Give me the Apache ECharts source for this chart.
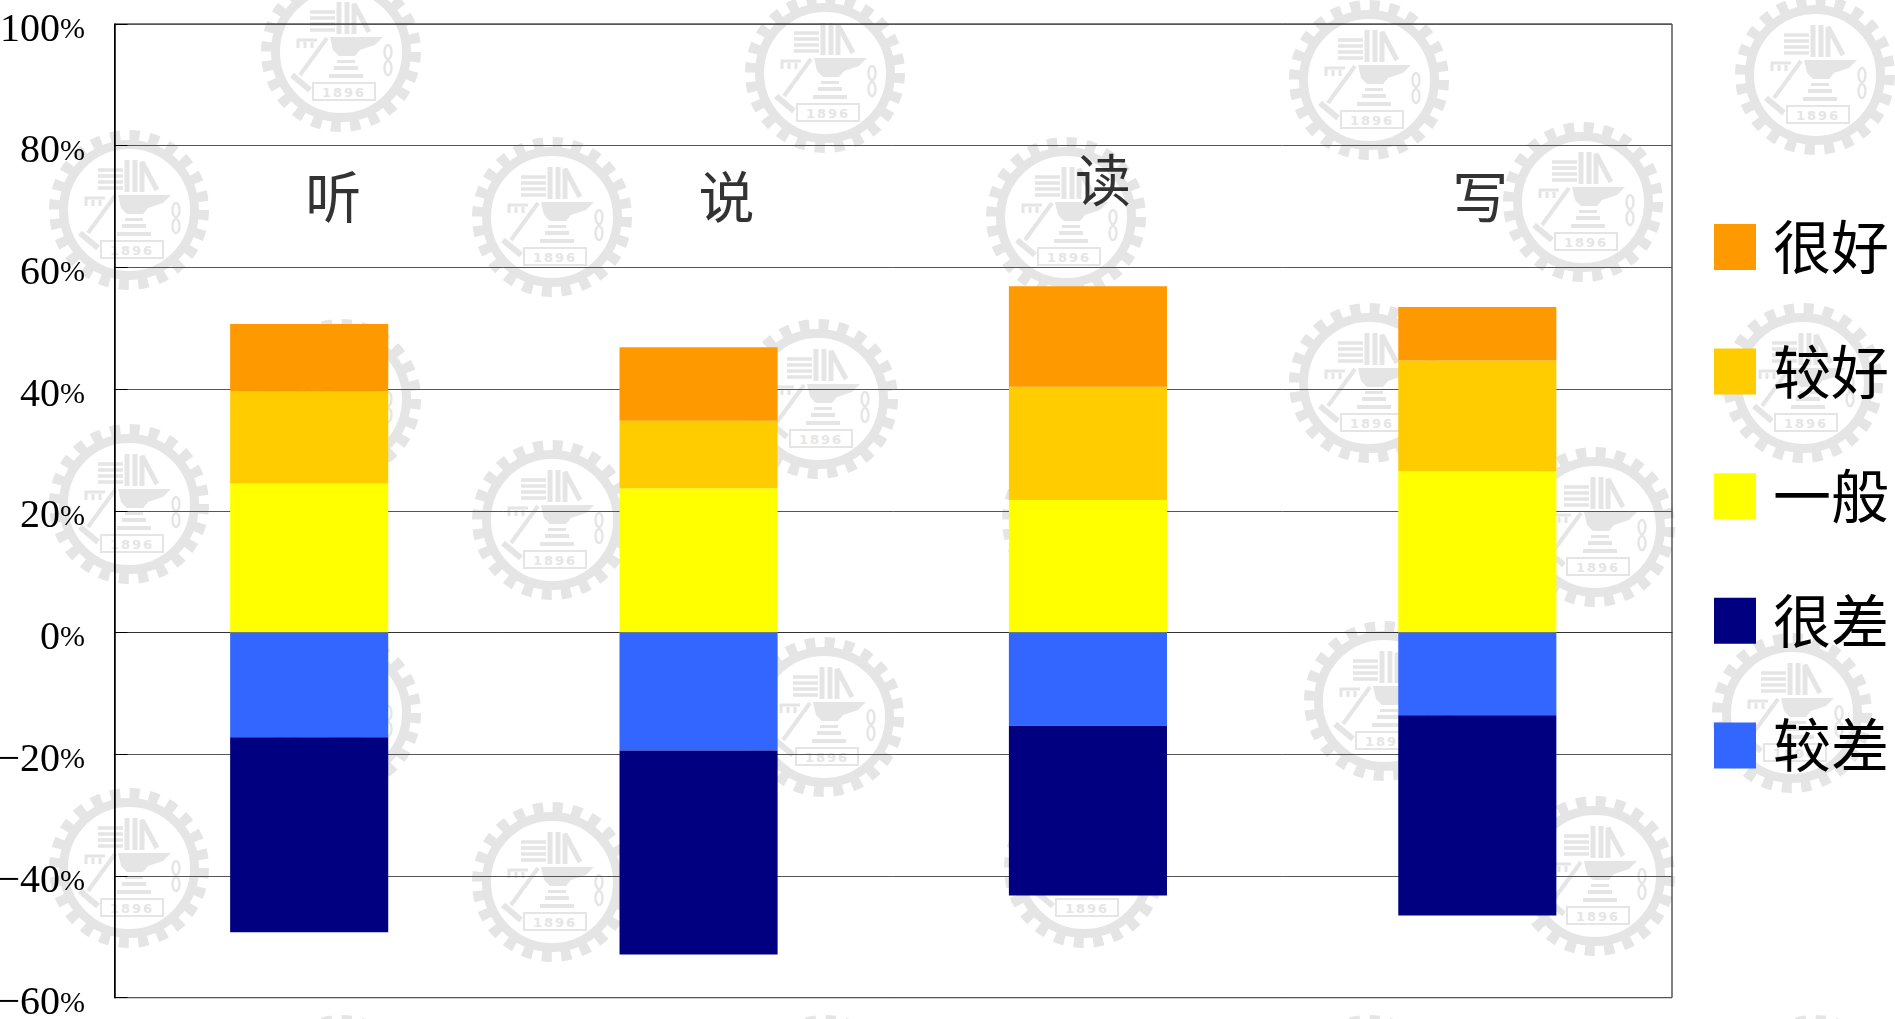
<!DOCTYPE html>
<html lang="zh">
<head>
<meta charset="utf-8">
<title>听说读写</title>
<style>
html,body{margin:0;padding:0;background:#fff;width:1895px;height:1019px;overflow:hidden}
#wm{position:absolute;left:0;top:0;width:1895px;height:1019px}
#main{position:absolute;left:0;top:0;width:1895px;height:1019px}
</style>
<script src="https://cdn.jsdelivr.net/npm/echarts@6/dist/echarts.min.js"></script>
</head>
<body>
<svg id="wm" xmlns="http://www.w3.org/2000/svg" viewBox="0 0 1895 1019"></svg>
<div id="main"></div>
<script>
// ---- chart data ----
const categories = ['听', '说', '读', '写'];
const legendOrder = ['很好', '较好', '一般', '很差', '较差'];
const veryGood = [11.1, 12.1, 16.5, 8.8];
const good     = [15.1, 11.1, 18.6, 18.2];
const average  = [24.5, 23.7, 21.8, 26.5];
const poor     = [-17.2, -19.4, -15.3, -13.6];
const veryPoor = [-32.05, -33.5, -27.9, -32.9];
const yTicks = { min: -60, max: 100, step: 20 };
const captionLevels = [71.7, 71.7, 74.4, 71.7];
const captionShift = [24, 28, 15, 3];
const colors = { veryGood: '#FF9900', good: '#FFCC00', average: '#FFFF00', poor: '#3366FF', veryPoor: '#000080' };

// ---- page watermark (decoration behind the chart) ----
const sealCentres = [
  [341,52],[825,73],[1369,80],[1815,75],
  [129,210],[552,217],[1066,217],[1583,202],
  [341,399],[818,399],[1369,383],[1803,383],
  [129,504],[552,520],[1082,520],[1595,527],
  [341,713],[824,717],[1384,701],[1792,713],
  [129,868],[552,882],[1084,868],[1595,876],
  [341,1095],[825,1095],[1369,1095],[1815,1095]
];
const seal = `
<g fill="none" stroke="#e5e5e5">
  <circle cx="80" cy="80" r="65.5" stroke-width="9"/>
  <circle cx="80" cy="80" r="74.5" stroke-width="11" stroke-dasharray="10 9.51"/>
  <path d="M49 40h25M49 46h25M49 52h25M49 58h25" stroke-width="3.6"/>
  <path d="M78 62V30M86 62V30" stroke-width="5"/>
  <path d="M93 62V32L108 60" stroke-width="5"/>
  <path d="M66 66L39 103" stroke-width="4"/>
  <path d="M31 103L49 118" stroke-width="6"/>
  <path d="M37 76V68H56M44 76V70M51 76V70" stroke-width="3"/>
  <ellipse cx="127" cy="80" rx="3.5" ry="7" stroke-width="2.4"/>
  <ellipse cx="127" cy="96" rx="3.5" ry="7" stroke-width="2.4"/>
  <rect x="52" y="111" width="62" height="17" stroke-width="2"/>
</g>
<g fill="#e5e5e5" stroke="none">
  <path d="M69 65H122L114 73L99 78L94 84H78L72 78Z"/>
  <path d="M76 88H94V91H76ZM73 94H97V98H73ZM68 102H102V106H68Z"/>
  <text x="83" y="124.5" text-anchor="middle" font-family="DejaVu Sans" font-weight="bold" font-size="13" letter-spacing="2">1896</text>
</g>`;
document.getElementById('wm').innerHTML = sealCentres
  .map(([x, y]) => `<g transform="translate(${x - 80} ${y - 80})">${seal}</g>`).join('');

// ---- chart ----
const cjk = '"Noto Sans CJK SC"';
const chart = echarts.init(document.getElementById('main'), null, { renderer: 'canvas', width: 1895, height: 1019 });
const barSeries = (name, data, color) => ({
  name, type: 'bar', stack: 'total', data, barWidth: '40.6%',
  itemStyle: { color }, emphasis: { disabled: true }, silent: true
});
chart.setOption({
  backgroundColor: 'transparent',
  animation: false,
  textStyle: { fontFamily: cjk },
  tooltip: { show: false },
  grid: { left: 114.5, right: 223, top: 24, bottom: 21.3, show: true, borderColor: '#000', borderWidth: 1, backgroundColor: 'transparent', outerBoundsMode: 'none', containLabel: false },
  legend: {
    data: legendOrder, orient: 'vertical', left: 1714, top: 218, padding: 0,
    icon: 'rect', itemWidth: 42, itemHeight: 46, itemGap: 66.6,
    selectedMode: false,
    textStyle: { fontSize: 58, color: '#000', fontFamily: cjk, padding: [0, 0, 0, 12] }
  },
  xAxis: {
    type: 'category', data: categories,
    axisLine: { onZero: true, lineStyle: { color: '#333', width: 1 } },
    axisTick: { show: false }, axisLabel: { show: false }, splitLine: { show: false }
  },
  yAxis: {
    type: 'value', min: yTicks.min, max: yTicks.max, interval: yTicks.step,
    axisLine: { show: true, lineStyle: { color: '#000', width: 1.5 } },
    axisTick: { show: true, inside: true, length: 13, lineStyle: { color: '#000', width: 1 } },
    splitLine: { show: true, lineStyle: { color: '#555', width: 1 } },
    axisLabel: {
      margin: 29.5, showMinLabel: true, showMaxLabel: true, hideOverlap: false,
      padding: [12, 0, 0, 0],
      formatter: v => `{n|${String(v).replace('-', '\u2212')}}{p|%}`,
      rich: {
        n: { fontFamily: '"Liberation Serif"', fontSize: 40, color: '#000' },
        p: { fontFamily: '"Liberation Serif"', fontSize: 30, color: '#000' }
      }
    }
  },
  series: [
    barSeries('一般', average, colors.average),
    barSeries('较好', good, colors.good),
    barSeries('很好', veryGood, colors.veryGood),
    barSeries('较差', poor, colors.poor),
    barSeries('很差', veryPoor, colors.veryPoor),
    {
      type: 'scatter', symbolSize: 0, silent: true, z: 5,
      data: captionLevels.map((v, i) => ({
        value: [categories[i], v],
        label: {
          show: true, position: 'inside', formatter: categories[i],
          offset: [captionShift[i], 0], fontSize: 56, color: '#000', fontFamily: cjk
        }
      }))
    }
  ]
});
</script>
</body>
</html>
